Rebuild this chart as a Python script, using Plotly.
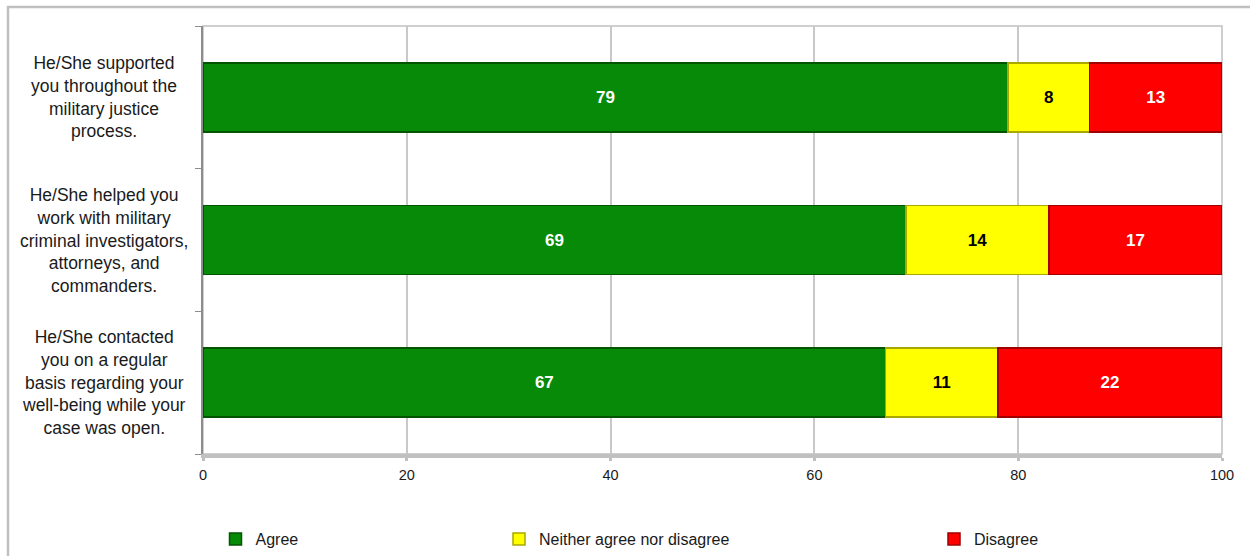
import plotly.graph_objects as go

# ---- data ----
categories = [
    "He/She supported<br>you throughout the<br>military justice<br>process.",
    "He/She helped you<br>work with military<br>criminal investigators,<br>attorneys, and<br>commanders.",
    "He/She contacted<br>you on a regular<br>basis regarding your<br>well-being while your<br>case was open.",
]
series_names = ["Agree", "Neither agree nor disagree", "Disagree"]
agree = [79, 69, 67]
neither = [8, 14, 11]
disagree = [13, 17, 22]
x_ticks = [0, 20, 40, 60, 80, 100]

# ---- styles ----
FONT = "Arial, 'Liberation Sans', sans-serif"
fills = ["#078a07", "#ffff00", "#ff0000"]
edges = ["#035403", "#a8a800", "#a00000"]
label_colors = ["#ffffff", "#000000", "#ffffff"]
legend_ids = ["legend", "legend2", "legend3"]

W, H = 1250, 556
L, R, T, B = 203, 28, 26, 102
pw, ph = W - L - R, H - T - B

def px_x(p):
    return (p - L) / pw

def px_y(p):
    return (H - B - p) / ph

fig = go.Figure()
for name, vals, fc, ec, lc, lg in zip(series_names, [agree, neither, disagree],
                                      fills, edges, label_colors, legend_ids):
    fig.add_trace(go.Bar(
        name=name, y=categories, x=vals, orientation="h",
        marker=dict(color=fc, line=dict(color=ec, width=1.5)),
        text=vals, texttemplate="%{x}", textposition="inside",
        insidetextanchor="middle", textangle=0,
        textfont=dict(family=FONT, size=17, color=lc, weight="bold"),
        legend=lg, hoverinfo="x+name",
    ))

# category labels (centered multi-line text beside the axis)
annotations = []
for c in categories:
    annotations.append(dict(
        x=px_x(104), xref="paper", y=c, yref="y", text=c, showarrow=False,
        xanchor="center", yanchor="middle", align="center",
        font=dict(family=FONT, size=17.5, color="#1a1a1a"),
    ))

legend_common = dict(
    orientation="h", yanchor="middle", y=px_y(539), xanchor="left",
    font=dict(family=FONT, size=16, color="#1a1a1a"),
    bgcolor="rgba(0,0,0,0)", borderwidth=0,
)

fig.update_layout(
    width=W, height=H,
    margin=dict(l=L, r=R, t=T, b=B, pad=0, autoexpand=False),
    paper_bgcolor="white", plot_bgcolor="white",
    barmode="stack", bargap=0.516,
    showlegend=True,
    legend=dict(x=px_x(215.5), **legend_common),
    legend2=dict(x=px_x(499), **legend_common),
    legend3=dict(x=px_x(934), **legend_common),
    xaxis=dict(
        range=[0, 100], tickvals=x_ticks, ticktext=[str(v) for v in x_ticks],
        showgrid=True, gridcolor="#c8c8c8", gridwidth=1.5,
        showline=True, linecolor="#c0c0c0", linewidth=4,
        ticks="outside", ticklen=3, tickwidth=3, tickcolor="#c0c0c0",
        ticklabelstandoff=2,
        tickfont=dict(family=FONT, size=14.5, color="#1a1a1a"),
        zeroline=False, fixedrange=True,
    ),
    yaxis=dict(
        categoryorder="array", categoryarray=categories[::-1],
        showticklabels=False, tickson="boundaries",
        ticks="outside", ticklen=6, tickcolor="#8c8c8c", tickwidth=1,
        showline=True, linecolor="#8c8c8c", linewidth=1.5,
        showgrid=False, zeroline=False, fixedrange=True,
    ),
    annotations=annotations,
    shapes=[
        # plot-area frame (top/right edges)
        dict(type="rect", xref="paper", yref="paper", x0=0, x1=1, y0=0, y1=1,
             line=dict(color="#c0c0c0", width=1.5), layer="below"),
        # outer chart border
        dict(type="rect", xref="paper", yref="paper",
             x0=px_x(8), x1=px_x(1270), y0=px_y(580), y1=px_y(7),
             line=dict(color="#c0c0c0", width=2.5), layer="below"),
    ],
)

fig.write_html(
    "out.html",
    config=dict(displayModeBar=False),
    post_script="document.body.style.margin='0px';document.body.style.overflow='hidden';",
)
